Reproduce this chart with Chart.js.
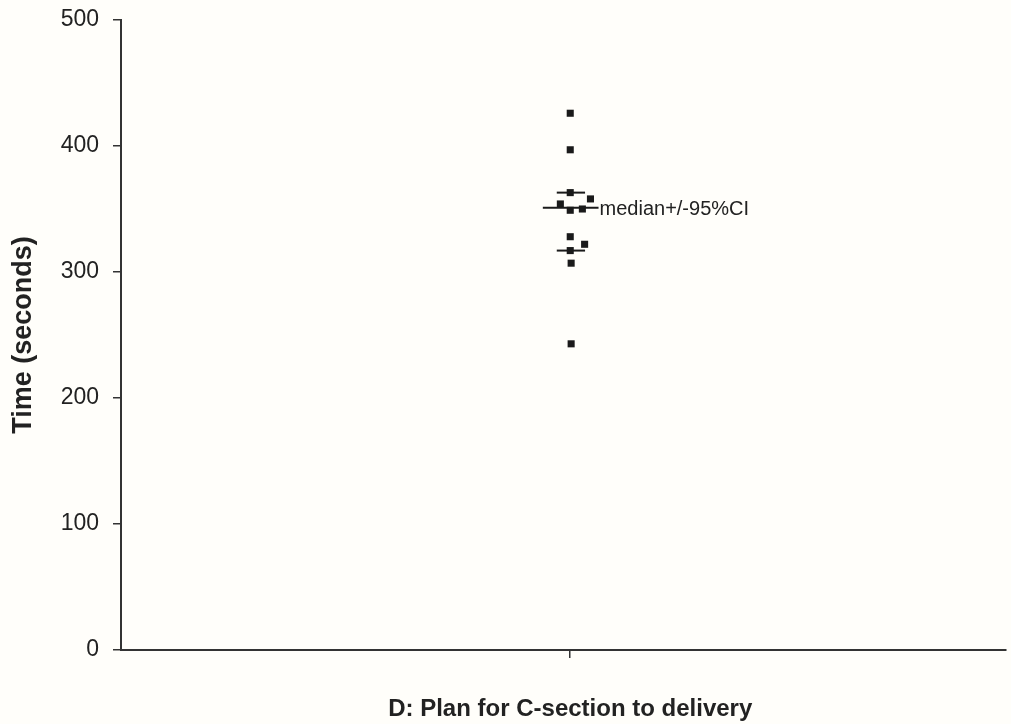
<!DOCTYPE html>
<html>
<head>
<meta charset="utf-8">
<script src="https://cdn.jsdelivr.net/npm/chart.js@4/dist/chart.umd.min.js"></script>
<style>
  html, body { margin: 0; padding: 0; background: #fffefa; }
  #wrap { width: 1011px; height: 724px; position: relative; }
</style>
</head>
<body>
<div id="wrap"><canvas id="c" width="1011" height="724"></canvas></div>
<script>
// 値データ
const categoryLabel = 'D: Plan for C-section to delivery';
const yTitle = 'Time (seconds)';
const yTicks = [0, 100, 200, 300, 400, 500];
const pointTimes = [426, 397, 363, 358, 354, 349, 350, 328, 322, 317, 307, 243];
const pointJitter = [0, 0, 0, 0.045, -0.022, 0, 0.027, 0, 0.032, 0, 0.002, 0.002];
const medianValue = 351;
const ciLow = 317;
const ciHigh = 363;
const medianHalfWidth = [-0.061, 0.063];
const ciHalfWidth = [-0.03, 0.033];
const annotation = 'median+/-95%CI';

const ink = '#1a1a1a';
const fontFamily = "'Liberation Sans', Arial, sans-serif";

const scatterPoints = pointTimes.map((v, i) => ({ x: pointJitter[i], y: v }));
const hLine = (value, ends) => ends.map((x) => ({ x: x, y: value }));

// 軸タイトルと注記を描くプラグイン
const textPlugin = {
    id: 'textPlugin',
    afterDraw: (chart) => {
        const ctx = chart.ctx;
        const xs = chart.scales.x;
        const ys = chart.scales.y;
        ctx.save();
        ctx.fillStyle = '#222';
        ctx.font = `20px ${fontFamily}`;
        ctx.textAlign = 'left';
        ctx.textBaseline = 'middle';
        ctx.fillText(annotation, xs.getPixelForValue(medianHalfWidth[1]) + 1, ys.getPixelForValue(medianValue) + 2);

        ctx.font = `bold 24px ${fontFamily}`;
        ctx.textAlign = 'center';
        ctx.fillText(categoryLabel, xs.getPixelForValue(0), 709);

        ctx.font = `bold 27px ${fontFamily}`;
        ctx.translate(24, (ys.top + ys.bottom) / 2);
        ctx.rotate(-Math.PI / 2);
        ctx.fillText(yTitle, 0, 0);
        ctx.restore();
    },
};

new Chart(document.getElementById('c'), {
    type: 'scatter',
    data: {
        datasets: [
            {
                type: 'line',
                data: hLine(medianValue, medianHalfWidth),
                borderColor: ink,
                borderWidth: 2,
                pointRadius: 0,
            },
            {
                type: 'line',
                data: hLine(ciHigh, ciHalfWidth),
                borderColor: ink,
                borderWidth: 2,
                pointRadius: 0,
            },
            {
                type: 'line',
                data: hLine(ciLow, ciHalfWidth),
                borderColor: ink,
                borderWidth: 2,
                pointRadius: 0,
            },
            {
                data: scatterPoints,
                pointStyle: 'rect',
                pointRadius: 5,
                backgroundColor: ink,
                borderColor: ink,
                borderWidth: 0,
            },
        ],
    },
    options: {
        responsive: false,
        animation: false,
        layout: { padding: { top: 20, right: 0, left: 0, bottom: 0 } },
        plugins: {
            legend: { display: false },
            tooltip: { enabled: false },
        },
        scales: {
            x: {
                type: 'linear',
                min: -1,
                max: 0.97,
                afterBuildTicks: (scale) => {
                    scale.ticks = [{ value: 0 }];
                },
                afterFit: (scale) => {
                    scale.height = 74;
                    scale.paddingRight = 0;
                },
                ticks: { display: false },
                grid: {
                    display: true,
                    drawOnChartArea: false,
                    drawTicks: true,
                    tickLength: 8,
                    color: '#333',
                    lineWidth: 1.5,
                },
                border: { color: '#333', width: 2 },
            },
            y: {
                min: 0,
                max: 500,
                afterBuildTicks: (scale) => {
                    scale.ticks = yTicks.map((v) => ({ value: v }));
                },
                afterFit: (scale) => {
                    scale.width = 121;
                    scale.paddingTop = 0;
                    scale.paddingBottom = 0;
                },
                ticks: {
                    color: '#222',
                    padding: 14,
                    font: { size: 23, family: fontFamily },
                },
                grid: {
                    display: true,
                    drawOnChartArea: false,
                    drawTicks: true,
                    tickLength: 8,
                    color: '#333',
                    lineWidth: 1.5,
                },
                border: { color: '#333', width: 2 },
            },
        },
    },
    plugins: [textPlugin],
});
</script>
</body>
</html>
